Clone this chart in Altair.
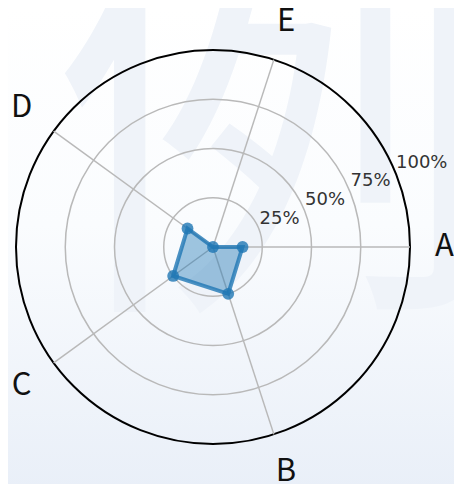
import math
import altair as alt
import pandas as pd

# ---- data ----
categories = ["A", "B", "C", "D", "E"]
values = [15, 25, 25, 16, 0]
ring_values = [25, 50, 75, 100]
ring_labels = ["25%", "50%", "75%", "100%"]
watermark = ["例"]

# ---- layout ----
R = 197          # radius of the 100% circle in px
W = 2 * R        # plot area
n = len(categories)
LABEL_R = 120    # radius (in % units) of the category labels

df = pd.DataFrame({"cat": categories, "value": values, "idx": list(range(n))})
rings = pd.DataFrame({"r": ring_values, "label": ring_labels})

xs = alt.Scale(domain=[-100, 100], nice=False, zero=False)
ys = alt.Scale(domain=[-100, 100], nice=False, zero=False)
theta_expr = f"-2*PI*datum.idx/{n}"

grid_col = "#b9b9b9"
blue = "#1f77b4"

bg = alt.Chart(pd.DataFrame({"k": [0]})).mark_rect(
    fill=alt.Gradient(
        gradient="linear",
        stops=[
            alt.GradientStop(color="#ffffff", offset=0),
            alt.GradientStop(color="#fafcfe", offset=0.45),
            alt.GradientStop(color="#e9eff8", offset=1),
        ],
        x1=0, y1=0, x2=0, y2=1,
    )
).encode(x=alt.value(-8), x2=alt.value(452), y=alt.value(-42), y2=alt.value(440))

wm = alt.Chart(pd.DataFrame({"t": watermark})).mark_text(
    fontSize=450, font="Noto Sans CJK SC", color="#eff3f9",
    align="center", baseline="middle",
).encode(text="t:N", x=alt.value(259), y=alt.value(92))

ring_layer = alt.Chart(rings).mark_arc(
    theta=0, theta2=2 * math.pi, filled=False,
).encode(
    radius=alt.Radius("r:Q", stack=None,
                      scale=alt.Scale(type="linear", domain=[0, 100], range=[0, R], zero=True)),
    stroke=alt.condition(alt.datum.r == 100, alt.value("#000000"), alt.value(grid_col)),
    strokeWidth=alt.condition(alt.datum.r == 100, alt.value(2), alt.value(1.5)),
)

spokes = alt.Chart(df).transform_calculate(
    theta=theta_expr, x0="0", y0="0",
    xe="100*cos(datum.theta)", ye="100*sin(datum.theta)",
).mark_rule(color=grid_col, strokeWidth=1.5).encode(
    x=alt.X("x0:Q", scale=xs, axis=None),
    y=alt.Y("y0:Q", scale=ys, axis=None),
    x2="xe:Q", y2="ye:Q",
)

poly_base = alt.Chart(df).transform_calculate(
    theta=theta_expr,
    px="datum.value*cos(datum.theta)",
    py="datum.value*sin(datum.theta)",
)

polygon = poly_base.mark_line(
    interpolate="linear-closed", fill=blue, fillOpacity=0.42,
    color=blue, strokeWidth=4, strokeOpacity=0.8,
).encode(
    x=alt.X("px:Q", scale=xs, axis=None),
    y=alt.Y("py:Q", scale=ys, axis=None),
    order="idx:O",
)

points = poly_base.mark_circle(size=140, color=blue, opacity=0.8).encode(
    x=alt.X("px:Q", scale=xs, axis=None),
    y=alt.Y("py:Q", scale=ys, axis=None),
)

label_base = alt.Chart(df).transform_calculate(
    theta=theta_expr,
    lx=f"{LABEL_R}*cos(datum.theta)",
    ly=f"{LABEL_R}*sin(datum.theta)",
)
label_enc = dict(
    x=alt.X("lx:Q", scale=xs, axis=None),
    y=alt.Y("ly:Q", scale=ys, axis=None),
    text="cat:N",
)
label_style = dict(fontSize=31, font="Noto Sans CJK SC", color="#111111",
                   align="center", baseline="middle")

cat_labels = label_base.transform_filter(alt.datum.idx != 0).mark_text(**label_style).encode(**label_enc)
# the right-hand label is nudged inwards so that it stays inside the page
cat_label_a = label_base.transform_filter(alt.datum.idx == 0).mark_text(dx=-5, **label_style).encode(**label_enc)

ring_text = alt.Chart(rings).transform_calculate(
    lx="datum.r*cos(PI/8)", ly="datum.r*sin(PI/8)",
).mark_text(
    fontSize=18, font="DejaVu Sans", color="#333333",
    align="left", baseline="alphabetic", dx=1, dy=-4,
).encode(
    x=alt.X("lx:Q", scale=xs, axis=None),
    y=alt.Y("ly:Q", scale=ys, axis=None),
    text="label:N",
)

chart = alt.layer(
    bg, wm, ring_layer, spokes, polygon, points, cat_labels, cat_label_a, ring_text
).properties(
    width=W, height=W,
    autosize=alt.AutoSizeParams(type="none"),
    padding={"left": 8, "top": 42, "right": 44, "bottom": 40},
).configure_view(stroke=None)

chart.save("out.html", embed_options={"renderer": "svg", "actions": False})
